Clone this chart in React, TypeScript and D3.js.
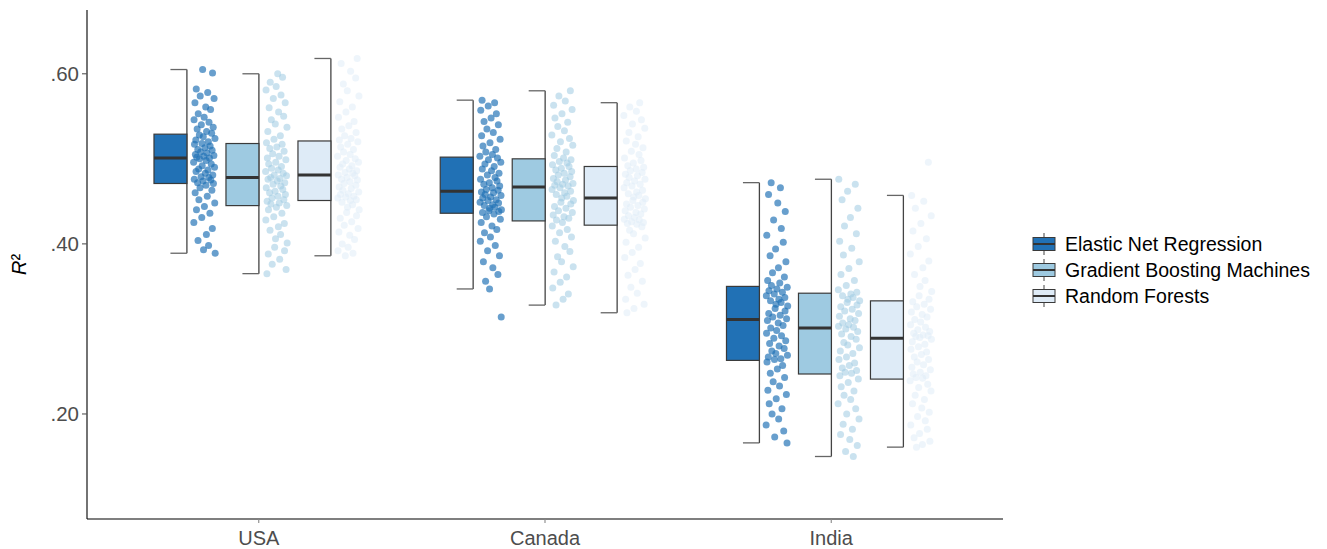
import React from "react";
import * as d3 from "d3";

// Countries on the x axis and the three learners compared within each
const countries = ["USA", "Canada", "India"];
const models = ["Elastic Net Regression", "Gradient Boosting Machines", "Random Forests"];
const modelColors = ["#2171b5", "#9ecae1", "#deebf7"];
const yTicks = [0.2, 0.4, 0.6];

// Box summaries per [country][model]: [lower whisker, Q1, median, Q3, upper whisker]
const usaBoxes = [
  [0.389, 0.471, 0.501, 0.529, 0.605],
  [0.365, 0.445, 0.478, 0.518, 0.6],
  [0.386, 0.451, 0.481, 0.521, 0.618],
];
const canadaBoxes = [
  [0.347, 0.436, 0.462, 0.502, 0.569],
  [0.328, 0.427, 0.467, 0.5, 0.58],
  [0.319, 0.422, 0.454, 0.491, 0.566],
];
const indiaBoxes = [
  [0.166, 0.263, 0.311, 0.35, 0.472],
  [0.15, 0.247, 0.301, 0.342, 0.476],
  [0.161, 0.241, 0.289, 0.333, 0.457],
];

// Cross-validated R² per fold
const usaEnr = [0.605, 0.601, 0.582, 0.578, 0.574, 0.571, 0.566, 0.561, 0.558, 0.553, 0.549, 0.546, 0.543, 0.54, 0.537, 0.535, 0.532, 0.53, 0.528, 0.526, 0.524, 0.522, 0.52, 0.518, 0.517, 0.515, 0.513, 0.511, 0.51, 0.508, 0.507, 0.505, 0.504, 0.503, 0.502, 0.501, 0.5, 0.498, 0.496, 0.494, 0.492, 0.49, 0.488, 0.487, 0.485, 0.483, 0.481, 0.479, 0.478, 0.476, 0.475, 0.474, 0.472, 0.471, 0.469, 0.466, 0.463, 0.46, 0.456, 0.452, 0.448, 0.444, 0.44, 0.436, 0.431, 0.425, 0.418, 0.411, 0.404, 0.398, 0.393, 0.389];
const usaGbm = [0.6, 0.596, 0.59, 0.585, 0.581, 0.575, 0.571, 0.566, 0.56, 0.555, 0.55, 0.546, 0.541, 0.537, 0.532, 0.527, 0.523, 0.519, 0.517, 0.514, 0.512, 0.509, 0.506, 0.503, 0.501, 0.499, 0.496, 0.494, 0.491, 0.489, 0.487, 0.485, 0.483, 0.481, 0.48, 0.478, 0.477, 0.476, 0.474, 0.472, 0.47, 0.468, 0.466, 0.464, 0.462, 0.46, 0.458, 0.456, 0.454, 0.452, 0.45, 0.448, 0.447, 0.445, 0.443, 0.44, 0.436, 0.432, 0.428, 0.424, 0.42, 0.416, 0.411, 0.406, 0.401, 0.396, 0.392, 0.388, 0.382, 0.376, 0.37, 0.365];
const usaRf = [0.618, 0.612, 0.603, 0.595, 0.588, 0.58, 0.574, 0.567, 0.561, 0.555, 0.549, 0.544, 0.539, 0.535, 0.531, 0.527, 0.524, 0.522, 0.52, 0.517, 0.514, 0.511, 0.508, 0.505, 0.503, 0.5, 0.498, 0.496, 0.494, 0.492, 0.49, 0.488, 0.486, 0.484, 0.483, 0.481, 0.48, 0.478, 0.476, 0.475, 0.473, 0.471, 0.469, 0.467, 0.465, 0.463, 0.461, 0.459, 0.458, 0.456, 0.455, 0.454, 0.452, 0.451, 0.449, 0.446, 0.443, 0.44, 0.437, 0.433, 0.43, 0.426, 0.422, 0.418, 0.414, 0.41, 0.405, 0.4, 0.396, 0.392, 0.389, 0.386];
const canadaEnr = [0.569, 0.566, 0.562, 0.557, 0.553, 0.548, 0.544, 0.54, 0.535, 0.531, 0.527, 0.523, 0.519, 0.515, 0.511, 0.508, 0.505, 0.503, 0.501, 0.499, 0.496, 0.494, 0.491, 0.488, 0.486, 0.483, 0.481, 0.478, 0.476, 0.474, 0.472, 0.47, 0.468, 0.466, 0.464, 0.463, 0.461, 0.46, 0.458, 0.457, 0.455, 0.454, 0.452, 0.451, 0.449, 0.448, 0.446, 0.445, 0.443, 0.442, 0.44, 0.439, 0.438, 0.437, 0.435, 0.432, 0.429, 0.425, 0.421, 0.417, 0.413, 0.408, 0.403, 0.398, 0.392, 0.386, 0.379, 0.372, 0.364, 0.356, 0.347, 0.314];
const canadaGbm = [0.58, 0.574, 0.568, 0.563, 0.558, 0.553, 0.548, 0.543, 0.538, 0.533, 0.528, 0.524, 0.52, 0.516, 0.512, 0.508, 0.504, 0.501, 0.499, 0.497, 0.495, 0.493, 0.491, 0.489, 0.487, 0.485, 0.483, 0.481, 0.479, 0.477, 0.475, 0.473, 0.471, 0.47, 0.469, 0.468, 0.466, 0.464, 0.462, 0.46, 0.458, 0.456, 0.454, 0.451, 0.449, 0.447, 0.444, 0.442, 0.439, 0.437, 0.434, 0.432, 0.43, 0.428, 0.425, 0.421, 0.417, 0.413, 0.408, 0.403, 0.397, 0.391, 0.385, 0.379, 0.373, 0.367, 0.361, 0.355, 0.348, 0.341, 0.335, 0.328];
const canadaRf = [0.566, 0.561, 0.556, 0.551, 0.546, 0.541, 0.536, 0.531, 0.526, 0.521, 0.517, 0.513, 0.509, 0.505, 0.501, 0.498, 0.495, 0.492, 0.49, 0.488, 0.486, 0.484, 0.482, 0.48, 0.478, 0.476, 0.474, 0.472, 0.47, 0.468, 0.466, 0.463, 0.461, 0.459, 0.457, 0.455, 0.453, 0.451, 0.449, 0.447, 0.445, 0.443, 0.441, 0.439, 0.437, 0.435, 0.433, 0.431, 0.429, 0.428, 0.426, 0.425, 0.424, 0.423, 0.42, 0.416, 0.412, 0.407, 0.402, 0.396, 0.39, 0.384, 0.377, 0.37, 0.363, 0.356, 0.349, 0.342, 0.335, 0.329, 0.324, 0.319];
const indiaEnr = [0.472, 0.466, 0.458, 0.448, 0.438, 0.428, 0.418, 0.41, 0.402, 0.394, 0.386, 0.379, 0.372, 0.366, 0.361, 0.357, 0.354, 0.351, 0.349, 0.347, 0.345, 0.343, 0.341, 0.339, 0.337, 0.335, 0.333, 0.331, 0.329, 0.327, 0.324, 0.321, 0.318, 0.316, 0.314, 0.312, 0.31, 0.307, 0.304, 0.301, 0.298, 0.295, 0.292, 0.289, 0.286, 0.283, 0.28, 0.277, 0.274, 0.271, 0.269, 0.267, 0.265, 0.264, 0.261, 0.257, 0.253, 0.248, 0.243, 0.238, 0.233, 0.228, 0.223, 0.218, 0.212, 0.206, 0.2, 0.194, 0.187, 0.18, 0.173, 0.166];
const indiaGbm = [0.476, 0.47, 0.462, 0.452, 0.442, 0.431, 0.421, 0.412, 0.403, 0.395, 0.387, 0.379, 0.371, 0.364, 0.357, 0.351, 0.346, 0.343, 0.341, 0.339, 0.337, 0.335, 0.333, 0.331, 0.328, 0.326, 0.323, 0.321, 0.318, 0.315, 0.312, 0.31, 0.307, 0.305, 0.303, 0.302, 0.3, 0.297, 0.294, 0.291, 0.288, 0.284, 0.281, 0.278, 0.274, 0.271, 0.267, 0.264, 0.26, 0.257, 0.254, 0.251, 0.249, 0.248, 0.245, 0.241, 0.237, 0.232, 0.227, 0.222, 0.217, 0.212, 0.206, 0.2, 0.194, 0.188, 0.182, 0.176, 0.17, 0.163, 0.156, 0.15];
const indiaRf = [0.496, 0.457, 0.45, 0.442, 0.433, 0.424, 0.415, 0.406, 0.397, 0.388, 0.38, 0.372, 0.364, 0.357, 0.35, 0.344, 0.339, 0.335, 0.332, 0.329, 0.326, 0.323, 0.32, 0.317, 0.314, 0.311, 0.308, 0.305, 0.302, 0.299, 0.297, 0.295, 0.293, 0.292, 0.291, 0.29, 0.288, 0.285, 0.282, 0.279, 0.276, 0.273, 0.27, 0.267, 0.264, 0.261, 0.258, 0.255, 0.252, 0.249, 0.247, 0.245, 0.243, 0.242, 0.239, 0.235, 0.231, 0.227, 0.222, 0.217, 0.212, 0.207, 0.202, 0.197, 0.192, 0.187, 0.182, 0.177, 0.172, 0.168, 0.164, 0.161];

// Horizontal jitter fractions (0..1) for the fold points
const jitter = [0.42, 0.87, 0.13, 0.65, 0.31, 0.94, 0.07, 0.56, 0.78, 0.22, 0.49, 0.03, 0.71, 0.36, 0.9, 0.17, 0.6, 0.83, 0.27, 0.45, 0.98, 0.11, 0.68, 0.39, 0.05, 0.76, 0.52, 0.2, 0.85, 0.33, 0.62, 0.09, 0.93, 0.47, 0.15, 0.73, 0.28, 0.58, 0.01, 0.81, 0.4, 0.96, 0.24, 0.66, 0.12, 0.54, 0.88, 0.35, 0.7, 0.04, 0.79, 0.44, 0.19, 0.91, 0.57, 0.3, 0.84, 0.08, 0.63, 0.25, 0.97, 0.5, 0.14, 0.75, 0.38, 0.02, 0.86, 0.59, 0.21, 0.69, 0.46, 0.99];

const boxes = [usaBoxes, canadaBoxes, indiaBoxes];
const folds = [
  [usaEnr, usaGbm, usaRf],
  [canadaEnr, canadaGbm, canadaRf],
  [indiaEnr, indiaGbm, indiaRf],
];

const W = 1327;
const H = 549;
const plot = { left: 87, right: 1003, top: 10, bottom: 519 };
const pointAlpha = [0.68, 0.55, 0.5];

export default function App() {
  // Discrete x positions 1..3 with ggplot-like 0.6 padding on each side
  const x = d3.scaleLinear().domain([0.4, 3.6]).range([plot.left, plot.right]);
  const y = d3.scaleLinear().domain([0.0765, 0.675]).range([plot.bottom, plot.top]);

  const unit = x(1) - x(0);
  const dodge = 0.2515; // spacing between models within a country
  const nudge = -0.057; // boxes shifted left of the tick
  const boxW = 0.115 * unit;
  const ptOffset = 3; // gap between box edge and points
  const ptSpread = 29;
  const r = 3.5;

  const font = "'Liberation Sans', Arial, sans-serif";

  return (
    <svg width={W} height={H} style={{ position: "absolute", left: 0, top: 0, background: "#fff" }} fontFamily={font}>
      {/* fold points */}
      {countries.map((c, ci) =>
        models.map((m, mi) => {
          const cx = x(ci + 1) + (nudge + (mi - 1) * dodge) * unit;
          const x0 = cx + boxW / 2 + ptOffset;
          const vals = folds[ci][mi];
          const shift = (ci * 3 + mi) * 7;
          return (
            <g key={`p-${c}-${m}`}>
              {vals.map((v, i) => (
                <circle
                  key={i}
                  cx={x0 + r + jitter[(i + shift) % jitter.length] * (ptSpread - 2 * r)}
                  cy={y(v)}
                  r={r}
                  fill={modelColors[mi]}
                  fillOpacity={pointAlpha[mi]}
                />
              ))}
            </g>
          );
        })
      )}

      {/* boxes with half-whiskers on the right edge */}
      {countries.map((c, ci) =>
        models.map((m, mi) => {
          const cx = x(ci + 1) + (nudge + (mi - 1) * dodge) * unit;
          const [lo, q1, med, q3, hi] = boxes[ci][mi];
          const xr = cx + boxW / 2;
          return (
            <g key={`b-${c}-${m}`}>
              <line x1={xr} x2={xr} y1={y(hi)} y2={y(lo)} stroke="#444" strokeWidth={1.3} />
              <line x1={cx} x2={xr} y1={y(hi)} y2={y(hi)} stroke="#666" strokeWidth={1.3} />
              <line x1={cx} x2={xr} y1={y(lo)} y2={y(lo)} stroke="#666" strokeWidth={1.3} />
              <rect
                x={cx - boxW / 2}
                y={y(q3)}
                width={boxW}
                height={y(q1) - y(q3)}
                fill={modelColors[mi]}
                stroke="#3a3a3a"
                strokeWidth={1.2}
              />
              <line x1={cx - boxW / 2} x2={xr} y1={y(med)} y2={y(med)} stroke="#333" strokeWidth={3} />
            </g>
          );
        })
      )}

      {/* axes */}
      <line x1={plot.left} x2={plot.left} y1={plot.top} y2={plot.bottom} stroke="#000" strokeWidth={1.1} />
      <line x1={plot.left} x2={plot.right} y1={plot.bottom} y2={plot.bottom} stroke="#000" strokeWidth={1.1} />
      {yTicks.map((t) => (
        <g key={`yt-${t}`}>
          <line x1={plot.left - 5} x2={plot.left} y1={y(t)} y2={y(t)} stroke="#555" strokeWidth={1.1} />
          <text x={plot.left - 8} y={y(t)} dy="0.36em" textAnchor="end" fontSize={20.5} fill="#4d4d4d">
            {d3.format(".2f")(t).replace(/^0/, "")}
          </text>
        </g>
      ))}
      {countries.map((c, ci) => (
        <g key={`xt-${c}`}>
          <line x1={x(ci + 1)} x2={x(ci + 1)} y1={plot.bottom} y2={plot.bottom + 4} stroke="#888" strokeWidth={1.1} />
          <text x={x(ci + 1)} y={plot.bottom + 26} textAnchor="middle" fontSize={20} fill="#4d4d4d">
            {c}
          </text>
        </g>
      ))}
      <text
        transform={`translate(26, ${(plot.top + plot.bottom) / 2}) rotate(-90)`}
        textAnchor="middle"
        fontSize={20}
        fill="#000"
      >
        <tspan fontStyle="italic">R</tspan>²
      </text>

      {/* legend */}
      {models.map((m, mi) => {
        const ly = 244 + mi * 26;
        const kx = 1033;
        const kw = 22;
        return (
          <g key={`lg-${m}`}>
            <line x1={kx + kw / 2} x2={kx + kw / 2} y1={ly - 11} y2={ly + 11} stroke="#444" strokeWidth={1} />
            <rect x={kx} y={ly - 6.5} width={kw} height={13} fill={modelColors[mi]} stroke="#3a3a3a" strokeWidth={1} />
            <line x1={kx} x2={kx + kw} y1={ly} y2={ly} stroke="#333" strokeWidth={2} />
            <text x={1065} y={ly} dy="0.36em" fontSize={19.5} fill="#000">
              {m}
            </text>
          </g>
        );
      })}
    </svg>
  );
}
